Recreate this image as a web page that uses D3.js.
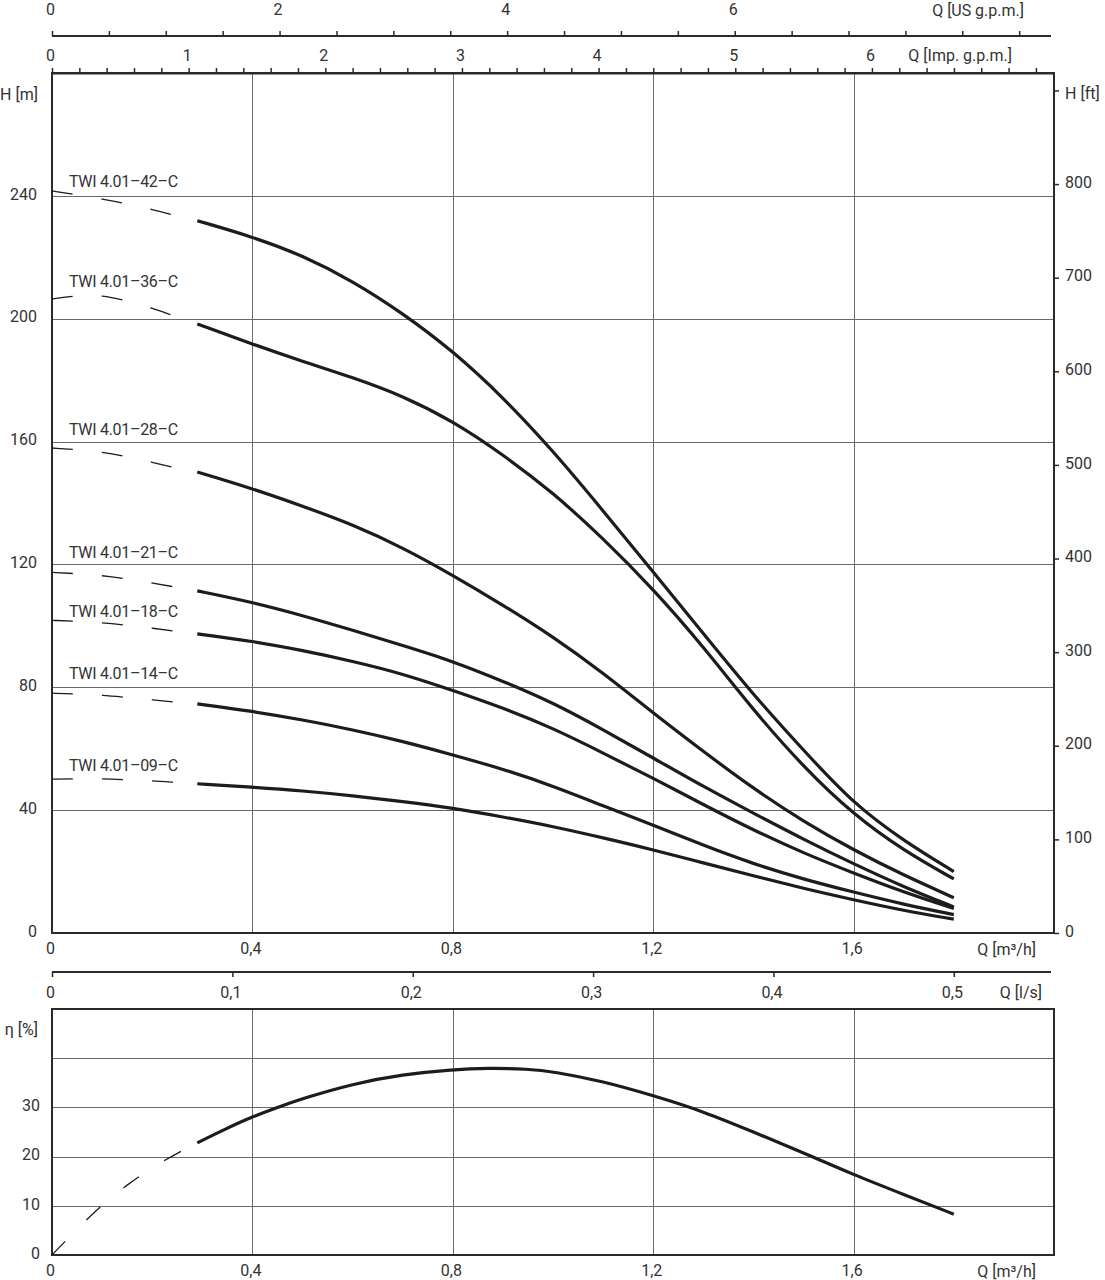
<!DOCTYPE html>
<html>
<head>
<meta charset="utf-8">
<script src="https://cdn.jsdelivr.net/npm/d3@7"></script>
<style>
  html, body { margin: 0; padding: 0; background: #fff; }
  svg text { font-family: Roboto, "DejaVu Sans", sans-serif; font-size: 16px; fill: #333; }
  svg text.model { letter-spacing: -0.3px; }
</style>
</head>
<body>
<svg id="chart" width="1105" height="1280"></svg>
<script>
// ---- Data -------------------------------------------------------------
// Flow rates [m³/h] of the measured (solid) part of each head curve
const flowSolid = [0.29, 0.4, 0.5, 0.6, 0.7, 0.8, 0.9, 1.0, 1.1, 1.2, 1.3, 1.4, 1.5, 1.6, 1.7, 1.8];
// Flow rates [m³/h] of the low-flow (dashed) part
const flowLow = [0, 0.05, 0.1, 0.15, 0.2, 0.25, 0.29];

const pumpModels = ["TWI 4.01–42–C", "TWI 4.01–36–C", "TWI 4.01–28–C", "TWI 4.01–21–C",
                    "TWI 4.01–18–C", "TWI 4.01–14–C", "TWI 4.01–09–C"];

// Head H [m]
const head42 = [231.9, 226.7, 220.6, 212.3, 201.8, 189.5, 174.5, 157, 137.5, 117.5, 97.5, 77.5, 59.5, 42, 30, 20];
const head36 = [198.3, 191.7, 186.1, 180.9, 174.9, 166.7, 155.8, 143.4, 128.5, 112, 93.3, 72.5, 54, 38.5, 26.8, 17.6];
const head28 = [150.1, 144.7, 139, 133, 125.5, 116.5, 106.8, 96.5, 84.7, 71.6, 59.1, 47, 36.3, 27, 18.8, 11.5];
const head21 = [111.4, 107.7, 103.4, 98.6, 93.6, 88.5, 82, 75, 66.2, 57, 47.7, 39, 30.5, 22.5, 15, 8.5];
const head18 = [97.4, 95, 92, 88.5, 84.4, 79, 73.3, 66.7, 58.6, 50.4, 41.8, 33.5, 26, 19.5, 13.3, 8];
const head14 = [74.6, 72.2, 69.4, 66.2, 62.4, 58, 53.4, 47.9, 41.4, 35.2, 28.5, 22.5, 17.5, 13.3, 9.3, 6];
const head09 = [48.6, 47.5, 46.3, 44.7, 42.8, 40.7, 37.8, 34.7, 31, 27.1, 22.8, 18.6, 14.5, 10.8, 7.3, 4.5];

const headLow42 = [241.6, 240.3, 239.0, 237.4, 235.6, 233.4, 231.9];
const headLow36 = [206.4, 207.6, 207.7, 205.8, 203.4, 200.6, 198.3];
const headLow28 = [157.9, 157.4, 156.6, 155.1, 153.3, 151.2, 150.1];
const headLow21 = [117.4, 117.0, 116.4, 115.3, 114.0, 112.5, 111.4];
const headLow18 = [101.8, 101.5, 101.0, 100.2, 99.3, 98.1, 97.4];
const headLow14 = [78.1, 77.8, 77.4, 76.7, 76.0, 75.0, 74.6];
const headLow09 = [50.1, 50.2, 50.2, 49.9, 49.6, 49.0, 48.6];

// Efficiency η [%]
const flowEff = [0.29, 0.35, 0.4, 0.45, 0.5, 0.6, 0.7, 0.8, 0.87, 0.95, 1.0, 1.1, 1.2, 1.3, 1.4, 1.5, 1.6, 1.7, 1.8];
const effSolid = [22.8, 25.8, 28.1, 30.0, 31.8, 34.8, 36.7, 37.7, 38.0, 37.8, 37.3, 35.3, 32.4, 29.2, 25.0, 20.8, 16.3, 12.3, 8.3];
const flowEffLow = [0, 0.05, 0.1, 0.15, 0.2, 0.25, 0.29];
const effLow = [0, 5.3, 10.2, 14.3, 17.8, 20.7, 22.8];

// Tick values
const flowTicks = [0, 0.4, 0.8, 1.2, 1.6];
const headTicks = [0, 40, 80, 120, 160, 200, 240];
const headGrid = [40, 80, 120, 160, 200, 240];
const headFtTicks = [0, 100, 200, 300, 400, 500, 600, 700, 800];
const effTicks = [0, 10, 20, 30];
const effGrid = [10, 20, 30, 40];
const usGpmLabels = [0, 2, 4, 6];
const impGpmLabels = [0, 1, 2, 3, 4, 5, 6];
const lpsTicks = [0, 0.1, 0.2, 0.3, 0.4, 0.5];

// ---- Layout -----------------------------------------------------------
const svg = d3.select("#chart");
const L = 52, R = 1054;
const mainTop = 73, mainBottom = 933;
const effTop = 1009, effBottom = 1255;
const ink = "#1c1c1c", gridCol = "#6a6a6a", frameCol = "#2a2a2a";

const x = d3.scaleLinear().domain([0, 2.0]).range([L, R]);
const yH = d3.scaleLinear().domain([0, 280]).range([mainBottom, mainTop]);
const yFt = d3.scaleLinear().domain([0, 280 * 3.28084]).range([mainBottom, mainTop]);
const yEta = d3.scaleLinear().domain([0, 50]).range([effBottom, effTop]);
const xUs = d3.scaleLinear().domain([0, 2.0 * 4.40287]).range([L, R]);
const xImp = d3.scaleLinear().domain([0, 2.0 * 3.66615]).range([L, R]);
const xLps = d3.scaleLinear().domain([0, 2.0 / 3.6]).range([L, R]);

const comma = d => String(d).replace(".", ",");

// ---- Grids ------------------------------------------------------------
function grid(yScale, yVals, top, bottom) {
  const g = svg.append("g").attr("stroke", gridCol).attr("stroke-width", 1).attr("shape-rendering", "crispEdges");
  g.selectAll(".v").data(flowTicks.filter(d => d > 0)).join("line")
    .attr("x1", d => Math.round(x(d)) + 0.5).attr("x2", d => Math.round(x(d)) + 0.5)
    .attr("y1", top).attr("y2", bottom);
  g.selectAll(".h").data(yVals).join("line")
    .attr("x1", L).attr("x2", R)
    .attr("y1", d => Math.round(yScale(d)) + 0.5).attr("y2", d => Math.round(yScale(d)) + 0.5);
}
grid(yH, headGrid, mainTop, mainBottom);
grid(yEta, effGrid, effTop, effBottom);

// Frames
[[mainTop, mainBottom], [effTop, effBottom]].forEach(([t, b]) => {
  svg.append("rect").attr("x", L).attr("y", t).attr("width", R - L).attr("height", b - t)
    .attr("fill", "none").attr("stroke", frameCol).attr("stroke-width", 2);
});

// ---- Top flow axes ----------------------------------------------------
function styleAxis(g) {
  g.attr("color", frameCol);
  g.select(".domain").attr("stroke-width", 2);
  g.selectAll(".tick line").attr("stroke-width", 1.5);
}
const usAxis = svg.append("g").attr("transform", "translate(0,36)")
  .call(d3.axisTop(xUs).tickValues(d3.range(0, 8.51, 0.5)).tickSize(5).tickSizeOuter(0).tickPadding(16)
    .tickFormat(d => usGpmLabels.includes(d) ? d : ""));
styleAxis(usAxis);
usAxis.select(".domain").attr("d", `M${L},0H1051`);
usAxis.selectAll(".tick text").attr("dx", -2);

const impAxis = svg.append("g").attr("transform", `translate(0,${mainTop})`)
  .call(d3.axisTop(xImp).tickValues(d3.range(0, 7.21, 0.2).map(v => +v.toFixed(1))).tickSize(5).tickSizeOuter(0).tickPadding(7)
    .tickFormat(d => impGpmLabels.includes(d) ? d : ""));
styleAxis(impAxis);
impAxis.selectAll(".tick text").attr("dx", -2);

svg.append("text").attr("x", 1024).attr("y", 16).attr("text-anchor", "end").text("Q [US g.p.m.]");
svg.append("text").attr("x", 1012).attr("y", 61).attr("text-anchor", "end").text("Q [Imp. g.p.m.]");

// ---- Head axes --------------------------------------------------------
const leftAxis = svg.append("g").attr("transform", `translate(${L},0)`)
  .call(d3.axisLeft(yH).tickValues(headTicks).tickSize(0).tickPadding(15));
leftAxis.select(".domain").remove();
leftAxis.selectAll(".tick text").attr("dy", "0.2em");
svg.append("text").attr("x", 38).attr("y", 100).attr("text-anchor", "end").text("H [m]");

const rightAxis = svg.append("g").attr("transform", `translate(${R},0)`)
  .call(d3.axisRight(yFt).tickValues(headFtTicks.concat([900])).tickSize(5).tickSizeOuter(0).tickPadding(6)
    .tickFormat(d => d === 900 ? "H [ft]" : d));
rightAxis.attr("color", frameCol);
rightAxis.select(".domain").remove();
rightAxis.selectAll(".tick line").attr("stroke-width", 1.5);
rightAxis.selectAll(".tick text").attr("dy", d => d === 900 ? "0.5em" : "0.2em");

// ---- Bottom flow axes -------------------------------------------------
const flowAxis = svg.append("g").attr("transform", `translate(0,${mainBottom})`)
  .call(d3.axisBottom(x).tickValues(flowTicks).tickSize(0).tickPadding(10).tickFormat(comma));
flowAxis.select(".domain").remove();
flowAxis.selectAll(".tick text").attr("dx", -2);
svg.append("text").attr("x", 1036).attr("y", 955).attr("text-anchor", "end").text("Q [m³/h]");

const lpsAxis = svg.append("g").attr("transform", "translate(0,972)")
  .call(d3.axisBottom(xLps).tickValues(lpsTicks).tickSize(5).tickSizeOuter(0).tickPadding(10).tickFormat(comma));
styleAxis(lpsAxis);
lpsAxis.select(".domain").attr("d", `M${L},0H1051`);
lpsAxis.selectAll(".tick text").attr("dx", -2);
svg.append("text").attr("x", 1042).attr("y", 998).attr("text-anchor", "end").text("Q [l/s]");

// ---- Efficiency axes --------------------------------------------------
const effAxis = svg.append("g").attr("transform", `translate(${L},0)`)
  .call(d3.axisLeft(yEta).tickValues(effTicks).tickSize(0).tickPadding(12));
effAxis.select(".domain").remove();
effAxis.selectAll(".tick text").attr("dy", "0.2em");
svg.append("text").attr("x", 38).attr("y", 1035).attr("text-anchor", "end").text("η [%]");

const effFlowAxis = svg.append("g").attr("transform", `translate(0,${effBottom})`)
  .call(d3.axisBottom(x).tickValues(flowTicks).tickSize(0).tickPadding(10).tickFormat(comma));
effFlowAxis.select(".domain").remove();
effFlowAxis.selectAll(".tick text").attr("dx", -2);
svg.append("text").attr("x", 1036).attr("y", 1277).attr("text-anchor", "end").text("Q [m³/h]");

// ---- Curves -----------------------------------------------------------
const headLine = d3.line().x(d => x(d[0])).y(d => yH(d[1])).curve(d3.curveBasis);
const effLine = d3.line().x(d => x(d[0])).y(d => yEta(d[1])).curve(d3.curveBasis);

const solidHeads = [head42, head36, head28, head21, head18, head14, head09];
const lowHeads = [headLow42, headLow36, headLow28, headLow21, headLow18, headLow14, headLow09];
// label baselines in screen space for each model
const labelBase = [187, 287, 435, 558, 617, 679, 771];

const curves = svg.append("g").attr("fill", "none").attr("stroke", ink).attr("stroke-linecap", "butt");
pumpModels.forEach((name, i) => {
  curves.append("path")
    .attr("d", headLine(flowLow.map((q, j) => [q, lowHeads[i][j]])))
    .attr("stroke-width", 1.3).attr("stroke-dasharray", "21,29");
  curves.append("path")
    .attr("d", headLine(flowSolid.map((q, j) => [q, solidHeads[i][j]])))
    .attr("stroke-width", 3.2);
  svg.append("text").attr("class", "model").attr("x", 69).attr("y", labelBase[i]).text(name);
});

curves.append("path")
  .attr("d", effLine(flowEffLow.map((q, j) => [q, effLow[j]])))
  .attr("stroke-width", 1.3).attr("stroke-dasharray", "19,30");
curves.append("path")
  .attr("d", effLine(flowEff.map((q, j) => [q, effSolid[j]])))
  .attr("stroke-width", 3.2);
</script>
</body>
</html>
